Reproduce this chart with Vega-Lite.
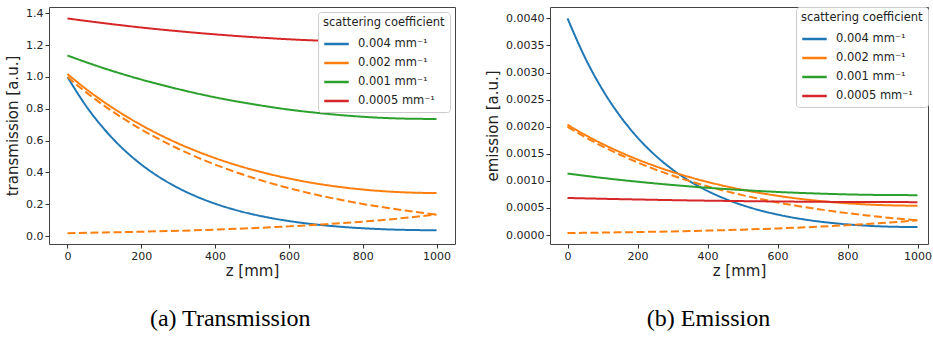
{
  "$schema": "https://vega.github.io/schema/vega-lite/v6.json",
  "padding": {"left": 5, "top": 6, "right": 0, "bottom": 0},
  "background": "white",
  "spacing": 29,
  "config": {
    "view": {"stroke": "#444", "strokeWidth": 1},
    "axis": {"domain": false, "grid": false, "tickColor": "#333", "tickSize": 4, "labelFont": "DejaVu Sans", "labelFontSize": 11, "labelColor": "#222", "labelPadding": 2, "titleFont": "DejaVu Sans", "titleFontSize": 15, "titleFontWeight": "normal", "titleColor": "#222"},
    "legend": {"orient": "top-right", "fillColor": "white", "strokeColor": "#ccc", "cornerRadius": 3, "padding": 5, "titleFont": "DejaVu Sans", "titleFontSize": 11.5, "titleFontWeight": "normal", "titleColor": "#222", "labelFont": "DejaVu Sans", "labelFontSize": 11.5, "labelColor": "#222", "symbolType": "stroke", "symbolStrokeWidth": 2.5, "symbolSize": 600, "labelOffset": 8, "rowPadding": 0, "titlePadding": 2},
    "title": {"font": "Liberation Serif", "fontSize": 24, "fontWeight": "normal", "color": "black"}
  },
  "datasets": {
    "trans": [
      {"s":"0.004 mm⁻¹","k":"solid","z":0,"v":1.0003},{"s":"0.004 mm⁻¹","k":"solid","z":50,"v":0.8191},{"s":"0.004 mm⁻¹","k":"solid","z":100,"v":0.6708},{"s":"0.004 mm⁻¹","k":"solid","z":150,"v":0.5494},{"s":"0.004 mm⁻¹","k":"solid","z":200,"v":0.45},{"s":"0.004 mm⁻¹","k":"solid","z":250,"v":0.3688},{"s":"0.004 mm⁻¹","k":"solid","z":300,"v":0.3023},{"s":"0.004 mm⁻¹","k":"solid","z":350,"v":0.248},{"s":"0.004 mm⁻¹","k":"solid","z":400,"v":0.2036},{"s":"0.004 mm⁻¹","k":"solid","z":450,"v":0.1673},{"s":"0.004 mm⁻¹","k":"solid","z":500,"v":0.1378},{"s":"0.004 mm⁻¹","k":"solid","z":550,"v":0.1138},{"s":"0.004 mm⁻¹","k":"solid","z":600,"v":0.0944},{"s":"0.004 mm⁻¹","k":"solid","z":650,"v":0.0788},{"s":"0.004 mm⁻¹","k":"solid","z":700,"v":0.0663},{"s":"0.004 mm⁻¹","k":"solid","z":750,"v":0.0565},{"s":"0.004 mm⁻¹","k":"solid","z":800,"v":0.049},{"s":"0.004 mm⁻¹","k":"solid","z":850,"v":0.0434},{"s":"0.004 mm⁻¹","k":"solid","z":900,"v":0.0396},{"s":"0.004 mm⁻¹","k":"solid","z":950,"v":0.0374},{"s":"0.004 mm⁻¹","k":"solid","z":1000,"v":0.0366},
      {"s":"0.002 mm⁻¹","k":"solid","z":0,"v":1.0183},{"s":"0.002 mm⁻¹","k":"solid","z":50,"v":0.925},{"s":"0.002 mm⁻¹","k":"solid","z":100,"v":0.8411},{"s":"0.002 mm⁻¹","k":"solid","z":150,"v":0.7655},{"s":"0.002 mm⁻¹","k":"solid","z":200,"v":0.6976},{"s":"0.002 mm⁻¹","k":"solid","z":250,"v":0.6367},{"s":"0.002 mm⁻¹","k":"solid","z":300,"v":0.5821},{"s":"0.002 mm⁻¹","k":"solid","z":350,"v":0.5335},{"s":"0.002 mm⁻¹","k":"solid","z":400,"v":0.49},{"s":"0.002 mm⁻¹","k":"solid","z":450,"v":0.4516},{"s":"0.002 mm⁻¹","k":"solid","z":500,"v":0.4176},{"s":"0.002 mm⁻¹","k":"solid","z":550,"v":0.3879},{"s":"0.002 mm⁻¹","k":"solid","z":600,"v":0.362},{"s":"0.002 mm⁻¹","k":"solid","z":650,"v":0.3396},{"s":"0.002 mm⁻¹","k":"solid","z":700,"v":0.3208},{"s":"0.002 mm⁻¹","k":"solid","z":750,"v":0.3051},{"s":"0.002 mm⁻¹","k":"solid","z":800,"v":0.2925},{"s":"0.002 mm⁻¹","k":"solid","z":850,"v":0.2829},{"s":"0.002 mm⁻¹","k":"solid","z":900,"v":0.276},{"s":"0.002 mm⁻¹","k":"solid","z":950,"v":0.272},{"s":"0.002 mm⁻¹","k":"solid","z":1000,"v":0.2705},
      {"s":"0.002 mm⁻¹","k":"dash1","z":0,"v":1.0},{"s":"0.002 mm⁻¹","k":"dash1","z":50,"v":0.9048},{"s":"0.002 mm⁻¹","k":"dash1","z":100,"v":0.8187},{"s":"0.002 mm⁻¹","k":"dash1","z":150,"v":0.7408},{"s":"0.002 mm⁻¹","k":"dash1","z":200,"v":0.6703},{"s":"0.002 mm⁻¹","k":"dash1","z":250,"v":0.6065},{"s":"0.002 mm⁻¹","k":"dash1","z":300,"v":0.5488},{"s":"0.002 mm⁻¹","k":"dash1","z":350,"v":0.4966},{"s":"0.002 mm⁻¹","k":"dash1","z":400,"v":0.4493},{"s":"0.002 mm⁻¹","k":"dash1","z":450,"v":0.4066},{"s":"0.002 mm⁻¹","k":"dash1","z":500,"v":0.3679},{"s":"0.002 mm⁻¹","k":"dash1","z":550,"v":0.3329},{"s":"0.002 mm⁻¹","k":"dash1","z":600,"v":0.3012},{"s":"0.002 mm⁻¹","k":"dash1","z":650,"v":0.2725},{"s":"0.002 mm⁻¹","k":"dash1","z":700,"v":0.2466},{"s":"0.002 mm⁻¹","k":"dash1","z":750,"v":0.2231},{"s":"0.002 mm⁻¹","k":"dash1","z":800,"v":0.2019},{"s":"0.002 mm⁻¹","k":"dash1","z":850,"v":0.1827},{"s":"0.002 mm⁻¹","k":"dash1","z":900,"v":0.1653},{"s":"0.002 mm⁻¹","k":"dash1","z":950,"v":0.1496},{"s":"0.002 mm⁻¹","k":"dash1","z":1000,"v":0.1353},
      {"s":"0.002 mm⁻¹","k":"dash2","z":0,"v":0.0183},{"s":"0.002 mm⁻¹","k":"dash2","z":100,"v":0.0224},{"s":"0.002 mm⁻¹","k":"dash2","z":200,"v":0.0273},{"s":"0.002 mm⁻¹","k":"dash2","z":300,"v":0.0333},{"s":"0.002 mm⁻¹","k":"dash2","z":400,"v":0.0407},{"s":"0.002 mm⁻¹","k":"dash2","z":500,"v":0.0497},{"s":"0.002 mm⁻¹","k":"dash2","z":600,"v":0.0608},{"s":"0.002 mm⁻¹","k":"dash2","z":700,"v":0.0742},{"s":"0.002 mm⁻¹","k":"dash2","z":800,"v":0.0906},{"s":"0.002 mm⁻¹","k":"dash2","z":900,"v":0.1107},{"s":"0.002 mm⁻¹","k":"dash2","z":1000,"v":0.1352},
      {"s":"0.001 mm⁻¹","k":"solid","z":0,"v":1.135},{"s":"0.001 mm⁻¹","k":"solid","z":100,"v":1.054},{"s":"0.001 mm⁻¹","k":"solid","z":200,"v":0.984},{"s":"0.001 mm⁻¹","k":"solid","z":300,"v":0.924},{"s":"0.001 mm⁻¹","k":"solid","z":400,"v":0.872},{"s":"0.001 mm⁻¹","k":"solid","z":500,"v":0.83},{"s":"0.001 mm⁻¹","k":"solid","z":600,"v":0.795},{"s":"0.001 mm⁻¹","k":"solid","z":700,"v":0.769},{"s":"0.001 mm⁻¹","k":"solid","z":800,"v":0.75},{"s":"0.001 mm⁻¹","k":"solid","z":900,"v":0.739},{"s":"0.001 mm⁻¹","k":"solid","z":1000,"v":0.736},
      {"s":"0.0005 mm⁻¹","k":"solid","z":0,"v":1.368},{"s":"0.0005 mm⁻¹","k":"solid","z":100,"v":1.338},{"s":"0.0005 mm⁻¹","k":"solid","z":200,"v":1.311},{"s":"0.0005 mm⁻¹","k":"solid","z":300,"v":1.288},{"s":"0.0005 mm⁻¹","k":"solid","z":400,"v":1.268},{"s":"0.0005 mm⁻¹","k":"solid","z":500,"v":1.251},{"s":"0.0005 mm⁻¹","k":"solid","z":600,"v":1.237},{"s":"0.0005 mm⁻¹","k":"solid","z":700,"v":1.227},{"s":"0.0005 mm⁻¹","k":"solid","z":800,"v":1.219},{"s":"0.0005 mm⁻¹","k":"solid","z":900,"v":1.215},{"s":"0.0005 mm⁻¹","k":"solid","z":1000,"v":1.213}
    ],
    "emis": [
      {"s":"0.004 mm⁻¹","k":"solid","z":0,"v":0.004001},{"s":"0.004 mm⁻¹","k":"solid","z":50,"v":0.003276},{"s":"0.004 mm⁻¹","k":"solid","z":100,"v":0.002683},{"s":"0.004 mm⁻¹","k":"solid","z":150,"v":0.002198},{"s":"0.004 mm⁻¹","k":"solid","z":200,"v":0.0018},{"s":"0.004 mm⁻¹","k":"solid","z":250,"v":0.001475},{"s":"0.004 mm⁻¹","k":"solid","z":300,"v":0.001209},{"s":"0.004 mm⁻¹","k":"solid","z":350,"v":0.000992},{"s":"0.004 mm⁻¹","k":"solid","z":400,"v":0.000814},{"s":"0.004 mm⁻¹","k":"solid","z":450,"v":0.000669},{"s":"0.004 mm⁻¹","k":"solid","z":500,"v":0.000551},{"s":"0.004 mm⁻¹","k":"solid","z":550,"v":0.000455},{"s":"0.004 mm⁻¹","k":"solid","z":600,"v":0.000378},{"s":"0.004 mm⁻¹","k":"solid","z":650,"v":0.000315},{"s":"0.004 mm⁻¹","k":"solid","z":700,"v":0.000265},{"s":"0.004 mm⁻¹","k":"solid","z":750,"v":0.000226},{"s":"0.004 mm⁻¹","k":"solid","z":800,"v":0.000196},{"s":"0.004 mm⁻¹","k":"solid","z":850,"v":0.000174},{"s":"0.004 mm⁻¹","k":"solid","z":900,"v":0.000158},{"s":"0.004 mm⁻¹","k":"solid","z":950,"v":0.00015},{"s":"0.004 mm⁻¹","k":"solid","z":1000,"v":0.000146},
      {"s":"0.002 mm⁻¹","k":"solid","z":0,"v":0.002037},{"s":"0.002 mm⁻¹","k":"solid","z":50,"v":0.00185},{"s":"0.002 mm⁻¹","k":"solid","z":100,"v":0.001682},{"s":"0.002 mm⁻¹","k":"solid","z":150,"v":0.001531},{"s":"0.002 mm⁻¹","k":"solid","z":200,"v":0.001395},{"s":"0.002 mm⁻¹","k":"solid","z":250,"v":0.001273},{"s":"0.002 mm⁻¹","k":"solid","z":300,"v":0.001164},{"s":"0.002 mm⁻¹","k":"solid","z":350,"v":0.001067},{"s":"0.002 mm⁻¹","k":"solid","z":400,"v":0.00098},{"s":"0.002 mm⁻¹","k":"solid","z":450,"v":0.000903},{"s":"0.002 mm⁻¹","k":"solid","z":500,"v":0.000835},{"s":"0.002 mm⁻¹","k":"solid","z":550,"v":0.000776},{"s":"0.002 mm⁻¹","k":"solid","z":600,"v":0.000724},{"s":"0.002 mm⁻¹","k":"solid","z":650,"v":0.000679},{"s":"0.002 mm⁻¹","k":"solid","z":700,"v":0.000642},{"s":"0.002 mm⁻¹","k":"solid","z":750,"v":0.00061},{"s":"0.002 mm⁻¹","k":"solid","z":800,"v":0.000585},{"s":"0.002 mm⁻¹","k":"solid","z":850,"v":0.000566},{"s":"0.002 mm⁻¹","k":"solid","z":900,"v":0.000552},{"s":"0.002 mm⁻¹","k":"solid","z":950,"v":0.000544},{"s":"0.002 mm⁻¹","k":"solid","z":1000,"v":0.000541},
      {"s":"0.002 mm⁻¹","k":"dash1","z":0,"v":0.002},{"s":"0.002 mm⁻¹","k":"dash1","z":50,"v":0.00181},{"s":"0.002 mm⁻¹","k":"dash1","z":100,"v":0.001637},{"s":"0.002 mm⁻¹","k":"dash1","z":150,"v":0.001482},{"s":"0.002 mm⁻¹","k":"dash1","z":200,"v":0.001341},{"s":"0.002 mm⁻¹","k":"dash1","z":250,"v":0.001213},{"s":"0.002 mm⁻¹","k":"dash1","z":300,"v":0.001098},{"s":"0.002 mm⁻¹","k":"dash1","z":350,"v":0.000993},{"s":"0.002 mm⁻¹","k":"dash1","z":400,"v":0.000899},{"s":"0.002 mm⁻¹","k":"dash1","z":450,"v":0.000813},{"s":"0.002 mm⁻¹","k":"dash1","z":500,"v":0.000736},{"s":"0.002 mm⁻¹","k":"dash1","z":550,"v":0.000666},{"s":"0.002 mm⁻¹","k":"dash1","z":600,"v":0.000602},{"s":"0.002 mm⁻¹","k":"dash1","z":650,"v":0.000545},{"s":"0.002 mm⁻¹","k":"dash1","z":700,"v":0.000493},{"s":"0.002 mm⁻¹","k":"dash1","z":750,"v":0.000446},{"s":"0.002 mm⁻¹","k":"dash1","z":800,"v":0.000404},{"s":"0.002 mm⁻¹","k":"dash1","z":850,"v":0.000365},{"s":"0.002 mm⁻¹","k":"dash1","z":900,"v":0.000331},{"s":"0.002 mm⁻¹","k":"dash1","z":950,"v":0.000299},{"s":"0.002 mm⁻¹","k":"dash1","z":1000,"v":0.000271},
      {"s":"0.002 mm⁻¹","k":"dash2","z":0,"v":0.0000366},{"s":"0.002 mm⁻¹","k":"dash2","z":100,"v":0.0000448},{"s":"0.002 mm⁻¹","k":"dash2","z":200,"v":0.0000546},{"s":"0.002 mm⁻¹","k":"dash2","z":300,"v":0.0000666},{"s":"0.002 mm⁻¹","k":"dash2","z":400,"v":0.0000814},{"s":"0.002 mm⁻¹","k":"dash2","z":500,"v":0.0000994},{"s":"0.002 mm⁻¹","k":"dash2","z":600,"v":0.0001216},{"s":"0.002 mm⁻¹","k":"dash2","z":700,"v":0.0001484},{"s":"0.002 mm⁻¹","k":"dash2","z":800,"v":0.0001812},{"s":"0.002 mm⁻¹","k":"dash2","z":900,"v":0.0002214},{"s":"0.002 mm⁻¹","k":"dash2","z":1000,"v":0.0002704},
      {"s":"0.001 mm⁻¹","k":"solid","z":0,"v":0.001135},{"s":"0.001 mm⁻¹","k":"solid","z":100,"v":0.001054},{"s":"0.001 mm⁻¹","k":"solid","z":200,"v":0.000984},{"s":"0.001 mm⁻¹","k":"solid","z":300,"v":0.000924},{"s":"0.001 mm⁻¹","k":"solid","z":400,"v":0.000872},{"s":"0.001 mm⁻¹","k":"solid","z":500,"v":0.00083},{"s":"0.001 mm⁻¹","k":"solid","z":600,"v":0.000795},{"s":"0.001 mm⁻¹","k":"solid","z":700,"v":0.000769},{"s":"0.001 mm⁻¹","k":"solid","z":800,"v":0.00075},{"s":"0.001 mm⁻¹","k":"solid","z":900,"v":0.000739},{"s":"0.001 mm⁻¹","k":"solid","z":1000,"v":0.000736},
      {"s":"0.0005 mm⁻¹","k":"solid","z":0,"v":0.000684},{"s":"0.0005 mm⁻¹","k":"solid","z":100,"v":0.000669},{"s":"0.0005 mm⁻¹","k":"solid","z":200,"v":0.000656},{"s":"0.0005 mm⁻¹","k":"solid","z":300,"v":0.000644},{"s":"0.0005 mm⁻¹","k":"solid","z":400,"v":0.000634},{"s":"0.0005 mm⁻¹","k":"solid","z":500,"v":0.000626},{"s":"0.0005 mm⁻¹","k":"solid","z":600,"v":0.000619},{"s":"0.0005 mm⁻¹","k":"solid","z":700,"v":0.000614},{"s":"0.0005 mm⁻¹","k":"solid","z":800,"v":0.00061},{"s":"0.0005 mm⁻¹","k":"solid","z":900,"v":0.000608},{"s":"0.0005 mm⁻¹","k":"solid","z":1000,"v":0.000607}
    ]
  },
  "resolve": {"scale": {"color": "independent", "strokeDash": "independent"}, "legend": {"color": "independent"}},
  "hconcat": [
    {
      "width": 406,
      "height": 237,
      "data": {"name": "trans"},
      "title": {"text": "(a) Transmission", "orient": "bottom", "anchor": "middle", "frame": "bounds", "offset": 29},
      "mark": {"type": "line", "strokeWidth": 2, "interpolate": "monotone", "clip": true},
      "encoding": {
        "x": {"field": "z", "type": "quantitative", "title": "z [mm]", "scale": {"domain": [-50, 1050], "nice": false, "zero": false}, "axis": {"values": [0, 200, 400, 600, 800, 1000], "format": "d", "titlePadding": 2}},
        "y": {"field": "v", "type": "quantitative", "title": "transmission [a.u.]", "scale": {"domain": [-0.05, 1.44], "nice": false, "zero": false}, "axis": {"values": [0, 0.2, 0.4, 0.6, 0.8, 1.0, 1.2, 1.4], "format": ".1f", "titlePadding": 5}},
        "color": {"field": "s", "type": "nominal", "title": "scattering coefficient", "scale": {"domain": ["0.004 mm⁻¹", "0.002 mm⁻¹", "0.001 mm⁻¹", "0.0005 mm⁻¹"], "range": ["#1f77b4", "#ff7f0e", "#2ca02c", "#d62728"]}, "legend": {"offset": 5}},
        "strokeDash": {"field": "k", "type": "nominal", "scale": {"domain": ["solid", "dash1", "dash2"], "range": [[1, 0], [8, 3.5], [8, 3.5]]}, "legend": null}
      }
    },
    {
      "width": 378,
      "height": 237,
      "data": {"name": "emis"},
      "title": {"text": "(b) Emission", "orient": "bottom", "anchor": "middle", "frame": "bounds", "offset": 29},
      "mark": {"type": "line", "strokeWidth": 2, "interpolate": "monotone", "clip": true},
      "encoding": {
        "x": {"field": "z", "type": "quantitative", "title": "z [mm]", "scale": {"domain": [-50, 1030], "nice": false, "zero": false}, "axis": {"values": [0, 200, 400, 600, 800, 1000], "format": "d", "titlePadding": 2}},
        "y": {"field": "v", "type": "quantitative", "title": "emission [a.u.]", "scale": {"domain": [-0.000166, 0.00421], "nice": false, "zero": false}, "axis": {"values": [0, 0.0005, 0.001, 0.0015, 0.002, 0.0025, 0.003, 0.0035, 0.004], "format": ".4f", "titlePadding": 5}},
        "color": {"field": "s", "type": "nominal", "title": "scattering coefficient", "scale": {"domain": ["0.004 mm⁻¹", "0.002 mm⁻¹", "0.001 mm⁻¹", "0.0005 mm⁻¹"], "range": ["#1f77b4", "#ff7f0e", "#2ca02c", "#d62728"]}, "legend": {"offset": 0}},
        "strokeDash": {"field": "k", "type": "nominal", "scale": {"domain": ["solid", "dash1", "dash2"], "range": [[1, 0], [8, 3.5], [8, 3.5]]}, "legend": null}
      }
    }
  ]
}
